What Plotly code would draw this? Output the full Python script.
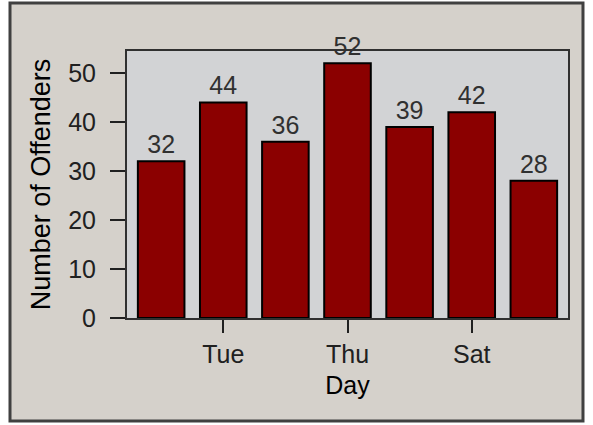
import plotly.graph_objects as go

days = ["Mon", "Tue", "Wed", "Thu", "Fri", "Sat", "Sun"]
offenders = [32, 44, 36, 52, 39, 42, 28]
x_tick_labels = ["Tue", "Thu", "Sat"]
y_ticks = [0, 10, 20, 30, 40, 50]

FONT = "Liberation Sans"
BEIGE = "#d5d1cb"
PLOTBG = "#d2d3d5"

fig = go.Figure()
fig.add_trace(go.Bar(
    x=days, y=offenders,
    marker=dict(color="#8b0000", line=dict(color="#000000", width=2)),
    text=[str(v) for v in offenders], textposition="outside",
    textfont=dict(family=FONT, size=25, color="#303030"),
    cliponaxis=False,
))

fig.update_layout(
    width=593, height=425,
    margin=dict(l=127, r=25, t=51, b=107),
    paper_bgcolor="#ffffff",
    plot_bgcolor=PLOTBG,
    bargap=0.25,
    showlegend=False,
    font=dict(family=FONT, size=25, color="#202020"),
    xaxis=dict(
        categoryorder="array", categoryarray=days,
        tickmode="array", tickvals=x_tick_labels, ticktext=x_tick_labels,
        ticks="outside", ticklen=13, tickwidth=2, tickcolor="#202020",
        showline=True, linecolor="#303030", linewidth=2, mirror=True,
        showgrid=False, range=[-0.55, 6.55],
        title=dict(text="Day", standoff=9, font=dict(size=25, color="#000000")),
        tickfont=dict(size=25, color="#202020"),
    ),
    yaxis=dict(
        range=[0, 54.5], tickvals=y_ticks,
        ticks="outside", ticklen=15, tickwidth=2, tickcolor="#202020",
        showline=True, linecolor="#303030", linewidth=2, mirror=True,
        showgrid=False, zeroline=False, ticklabelstandoff=9,
        title=dict(text="Number of Offenders", standoff=10, font=dict(size=27, color="#000000")),
        tickfont=dict(size=25, color="#202020"),
    ),
)

# window-like panel behind the chart
fig.add_shape(type="rect", xref="paper", yref="paper",
              x0=-0.2653, x1=1.034, y0=-0.386, y1=1.180,
              fillcolor=BEIGE, line=dict(color="#404040", width=3), layer="below")
fig.add_shape(type="rect", xref="paper", yref="paper",
              x0=0, x1=1, y0=0, y1=1,
              fillcolor=PLOTBG, line=dict(width=0), layer="below")

fig.write_html("out.html", config={"displayModeBar": False},
               post_script="document.body.style.margin='0px';")
